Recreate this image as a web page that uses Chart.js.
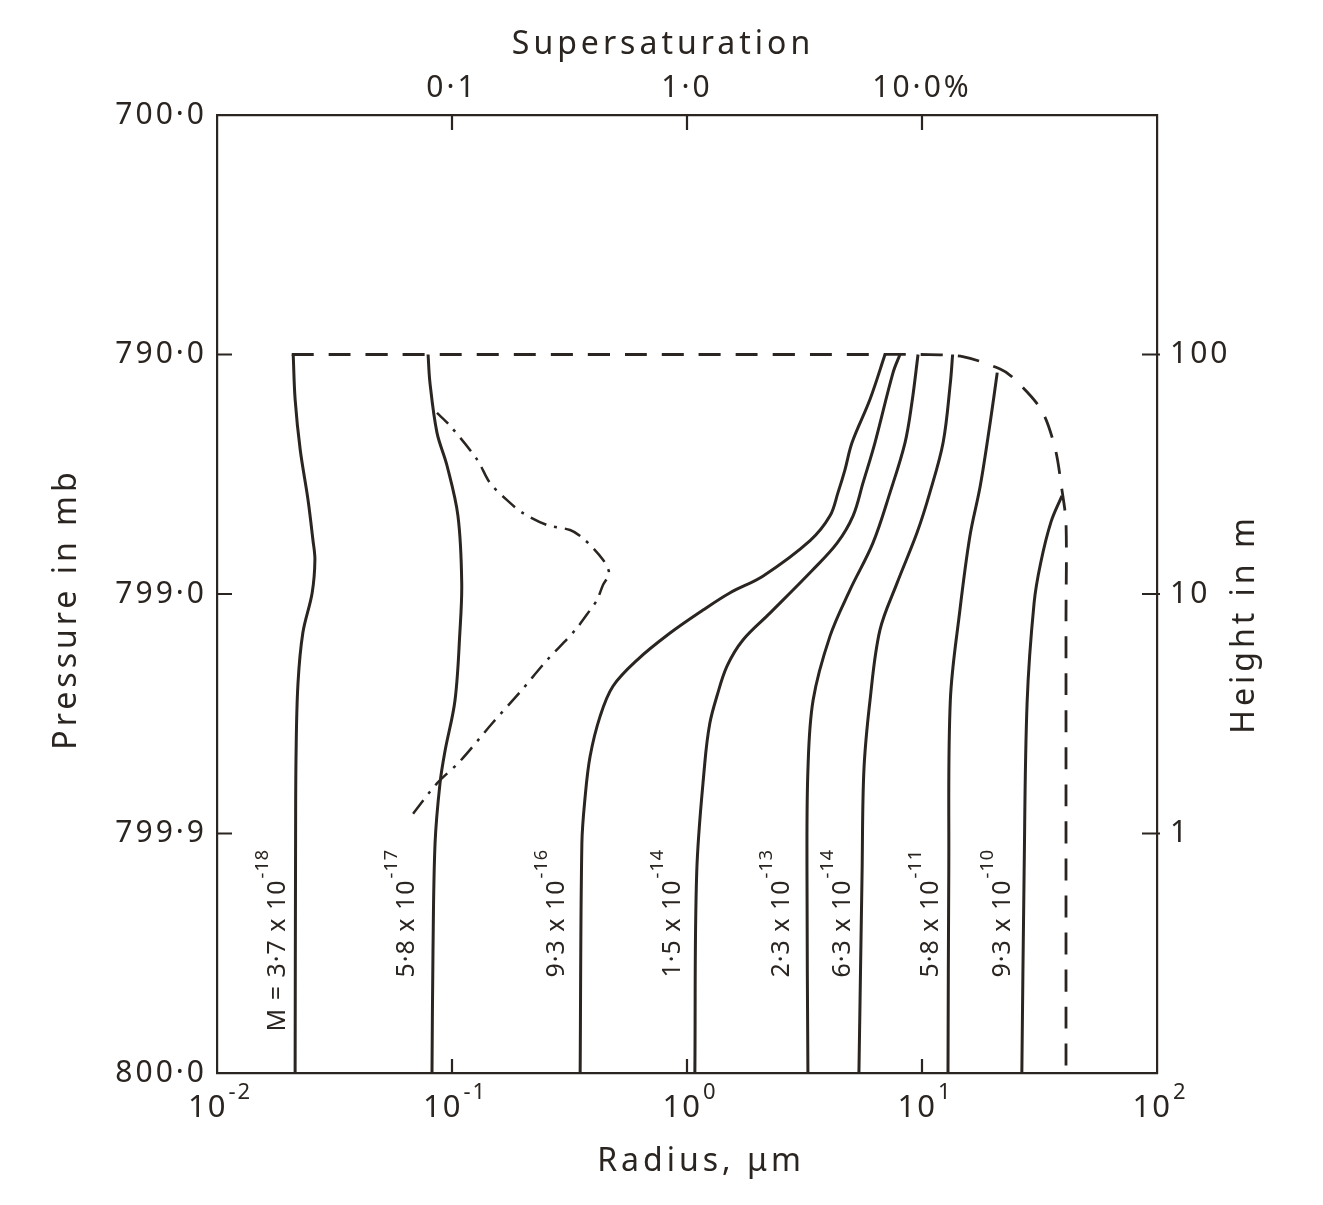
<!DOCTYPE html>
<html>
<head>
<meta charset="utf-8">
<title>Radius vs height</title>
<script src="https://cdn.jsdelivr.net/npm/chart.js@4.4.1/dist/chart.umd.min.js"></script>
<style>
  html, body { margin: 0; padding: 0; background: #fff; }
</style>
</head>
<body>
<canvas id="chart" width="1323" height="1205"></canvas>
<script>
// axis ticks
const radiusTicks = [0.01, 0.1, 1, 10, 100];
const radiusExp = ["-2", "-1", "0", "1", "2"];
const supersatTicks = [0.1, 1, 10];
const supersatLabels = ["0·1", "1·0", "10·0%"];
const heightTicks = [0.1, 1, 10, 100, 1000];
const pressureLabels = ["800·0", "799·9", "799·0", "790·0", "700·0"];
const heightRightTicks = [1, 10, 100];

// curve labels (salt mass M)
const massBase = ["M = 3·7 x 10", "5·8 x 10", "9·3 x 10", "1·5 x 10", "2·3 x 10", "6·3 x 10", "5·8 x 10", "9·3 x 10"];
const massExp = ["-18", "-17", "-16", "-14", "-13", "-14", "-11", "-10"];

// [radius µm, height m]
const curveA = [[0.0215,0.1],[0.0216,1.0],[0.0217,2.15],[0.0221,4.2],[0.0232,6.9],[0.0254,10.1],[0.0261,13.9],[0.0256,16.8],[0.0244,24.7],[0.0226,40],[0.0215,65],[0.0211,100]];
const curveB = [[0.0822,0.1],[0.0830,0.32],[0.0847,0.91],[0.0889,1.62],[0.0933,2.2],[0.103,3.6],[0.108,6.9],[0.110,11.1],[0.106,21.2],[0.0952,34.4],[0.0863,47.2],[0.0806,76],[0.0791,100]];
const curveC = [[0.351,0.1],[0.357,0.91],[0.368,1.40],[0.387,2.10],[0.427,3.09],[0.484,4.12],[0.613,5.30],[0.847,6.87],[1.17,8.57],[1.52,10.1],[2.11,11.9],[3.34,16.7],[4.06,21.2],[4.39,26.5],[4.70,33.0],[5.04,42.9],[6.01,65],[6.96,100]];
const curveD = [[1.08,0.1],[1.10,0.69],[1.19,1.96],[1.25,2.88],[1.34,3.74],[1.48,5.00],[1.73,6.43],[2.26,8.34],[3.40,12.5],[4.35,16.3],[5.09,21.2],[5.61,29.1],[6.31,42.9],[7.53,84],[8.06,100]];
const curveE = [[3.27,0.1],[3.24,0.69],[3.27,1.84],[3.44,3.60],[4.06,6.67],[4.94,10.4],[6.18,16.3],[7.31,26.5],[8.47,42.9],[9.06,63],[9.62,100]];
const curveF = [[5.39,0.1],[5.56,0.69],[5.66,1.84],[6.01,3.60],[6.62,7.06],[7.83,11.1],[9.52,18.0],[10.8,26.5],[12.3,42.9],[13.2,76],[13.5,100]];
const curveG = [[12.9,0.1],[13.0,0.69],[13.2,3.60],[14.5,8.57],[16.0,17.5],[17.7,28.3],[19.5,51.9],[20.9,84]];
const curveH = [[26.6,0.1],[27.2,0.69],[28.0,3.5],[30.0,9.2],[32.0,13.5],[35.4,20.0],[39.4,25.7]];
const curves = [curveA, curveB, curveC, curveD, curveE, curveF, curveG, curveH];

// dashed envelope and dash-dot line
const envelope = [[0.0208,100],[1,100],[6,100],[9.8,100],[14.9,98],[21.5,87],[24.4,80],[32.1,59],[36.8,40.8],[39.4,27.2],[41.0,19.8],[41.0,8],[41.0,0.1]];
const dashDot = [[0.0683,1.21],[0.0863,1.62],[0.108,2.0],[0.149,2.9],[0.195,3.9],[0.254,5.3],[0.334,7.06],[0.387,8.57],[0.414,9.44],[0.439,10.9],[0.466,12.2],[0.439,13.9],[0.361,17.1],[0.318,18.5],[0.254,19.4],[0.200,21.8],[0.171,24.7],[0.145,29.1],[0.128,36.4],[0.098,50.5],[0.0863,57]];

const ink = "#2a2521";
const family = "'Noto Sans', 'DejaVu Sans', sans-serif";
const labelNudge = [-17, -25, -23, -22, -26, -16, -17, -19];

const toPoints = arr => arr.map(([r, h]) => ({ x: r, y: h }));
const setTicks = values => scale => { scale.ticks = values.map(v => ({ value: v })); };

function supText(ctx, base, exp, x, y, baseSize, expSize, align, rise) {
  ctx.font = `${baseSize}px ${family}`;
  const wb = ctx.measureText(base).width;
  ctx.font = `${expSize}px ${family}`;
  const we = ctx.measureText(exp).width;
  const total = wb + we + 1;
  const start = align === "end" ? x - total : x - total / 2;
  ctx.font = `${baseSize}px ${family}`;
  ctx.fillText(base, start, y);
  ctx.font = `${expSize}px ${family}`;
  ctx.fillText(exp, start + wb + 1, y - rise);
}

const inkPlugin = {
  id: "inkPlugin",
  beforeDraw(chart) {
    chart.ctx.letterSpacing = "3px";
  },
  afterDraw(chart) {
    const { ctx, chartArea: a, scales } = chart;
    ctx.save();

    // inward tick marks
    ctx.strokeStyle = ink;
    ctx.lineWidth = 2.2;
    ctx.beginPath();
    radiusTicks.slice(1, -1).forEach(v => {
      const px = scales.x.getPixelForValue(v);
      ctx.moveTo(px, a.bottom); ctx.lineTo(px, a.bottom - 14);
    });
    supersatTicks.forEach(v => {
      const px = scales.xTop.getPixelForValue(v);
      ctx.moveTo(px, a.top); ctx.lineTo(px, a.top + 15);
    });
    heightTicks.slice(1, -1).forEach(v => {
      const py = scales.y.getPixelForValue(v);
      ctx.moveTo(a.left, py); ctx.lineTo(a.left + 15, py);
    });
    heightRightTicks.forEach(v => {
      const py = scales.yRight.getPixelForValue(v);
      ctx.moveTo(a.right + 3, py); ctx.lineTo(a.right - 15, py);
    });
    ctx.stroke();

    ctx.fillStyle = ink;

    // bottom tick labels 10^n
    ctx.letterSpacing = "2px";
    ctx.textBaseline = "alphabetic";
    ctx.textAlign = "left";
    radiusTicks.forEach((v, i) => {
      const px = scales.x.getPixelForValue(v);
      supText(ctx, "10", radiusExp[i], px + 3, a.bottom + 44, 31, 22, "center", 18);
    });

    // axis titles
    ctx.letterSpacing = "4px";
    ctx.font = `32px ${family}`;
    ctx.textAlign = "center";
    ctx.textBaseline = "middle";
    ctx.fillText("Supersaturation", a.left + 446, a.top - 70);
    ctx.fillText("Radius, μm", a.left + 484, a.bottom + 89);
    [["Pressure in mb", 67, a.top + 494], ["Height in m", a.right + 88, a.top + 509]].forEach(([t, tx, ty]) => {
      ctx.save();
      ctx.translate(tx, ty);
      ctx.rotate(-Math.PI / 2);
      ctx.fillText(t, 0, 0);
      ctx.restore();
    });

    // curve labels, rotated, ending just below the 1 m level
    ctx.letterSpacing = "1px";
    const labelTop = a.bottom - 224;
    ctx.textAlign = "left";
    curves.forEach((c, i) => {
      const px = scales.x.getPixelForValue(c[0][0]) + labelNudge[i];
      ctx.save();
      ctx.translate(px, labelTop);
      ctx.rotate(-Math.PI / 2);
      supText(ctx, massBase[i], massExp[i], 0, 0, 25, 18, "end", 15);
      ctx.restore();
    });

    ctx.restore();
    ctx.letterSpacing = "0px";
  }
};

const solid = curves.map(c => ({
  data: toPoints(c),
  showLine: true,
  borderColor: ink,
  borderWidth: 3,
  pointRadius: 0,
  tension: 0.35,
  xAxisID: "x",
  yAxisID: "y"
}));

const datasets = solid.concat([
  {
    data: toPoints(envelope),
    showLine: true,
    borderColor: ink,
    borderWidth: 2.8,
    borderDash: [22, 15],
    pointRadius: 0,
    tension: 0.3,
    xAxisID: "x",
    yAxisID: "y"
  },
  {
    data: toPoints(dashDot),
    showLine: true,
    borderColor: ink,
    borderWidth: 2.5,
    borderDash: [17, 8, 3, 8],
    pointRadius: 0,
    tension: 0.3,
    xAxisID: "x",
    yAxisID: "y"
  }
]);

const border = { display: true, color: ink, width: 2.2 };
const noGrid = { display: false, drawTicks: false };
const tickFont = { family: family, size: 30 };

new Chart(document.getElementById("chart"), {
  type: "scatter",
  data: { datasets },
  plugins: [inkPlugin],
  options: {
    responsive: false,
    animation: false,
    events: [],
    layout: { padding: 0 },
    plugins: { legend: { display: false }, tooltip: { enabled: false } },
    scales: {
      x: {
        type: "logarithmic", position: "bottom", min: 0.01, max: 100,
        afterBuildTicks: setTicks(radiusTicks),
        ticks: { display: false },
        grid: noGrid, border,
        afterFit: s => { s.height = 132; }
      },
      xTop: {
        type: "logarithmic", position: "top", min: 0.01, max: 100,
        afterBuildTicks: setTicks(supersatTicks),
        ticks: {
          callback: v => supersatLabels[supersatTicks.indexOf(v)],
          font: tickFont, color: ink, padding: 9, maxRotation: 0, autoSkip: false
        },
        grid: noGrid, border,
        afterFit: s => { s.height = 115; }
      },
      y: {
        type: "logarithmic", position: "left", min: 0.1, max: 1000,
        afterBuildTicks: setTicks(heightTicks),
        ticks: {
          callback: v => pressureLabels[heightTicks.indexOf(v)],
          font: tickFont, color: ink, padding: 10, autoSkip: false
        },
        grid: noGrid, border,
        afterFit: s => { s.width = 217; }
      },
      yRight: {
        type: "logarithmic", position: "right", min: 0.1, max: 1000,
        afterBuildTicks: setTicks(heightRightTicks),
        ticks: {
          callback: v => String(v),
          font: tickFont, color: ink, padding: 13, autoSkip: false
        },
        grid: noGrid, border,
        afterFit: s => { s.width = 166; }
      }
    }
  }
});
</script>
</body>
</html>
